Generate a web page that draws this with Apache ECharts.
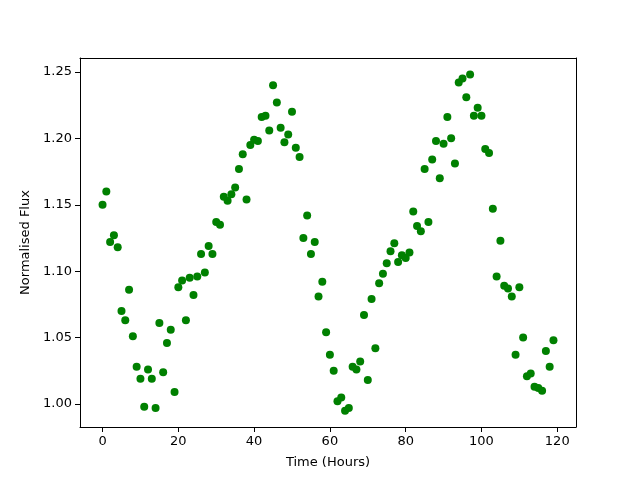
<!DOCTYPE html>
<html>
<head>
<meta charset="utf-8">
<script src="https://cdn.jsdelivr.net/npm/echarts@6/dist/echarts.min.js"></script>
<style>
  html, body { margin: 0; padding: 0; background: #fff; }
  #chart { width: 640px; height: 480px; }
</style>
</head>
<body>
<div id="chart"></div>
<script>
// time of each observation (hours)
const hours = [
  0, 1, 2, 3, 4, 5, 6, 7, 8, 9,
  10, 11, 12, 13, 14, 15, 16, 17, 18, 19,
  20, 21, 22, 23, 24, 25, 26, 27, 28, 29,
  30, 31, 32, 33, 34, 35, 36, 37, 38, 39,
  40, 41, 42, 43, 44, 45, 46, 47, 48, 49,
  50, 51, 52, 53, 54, 55, 56, 57, 58, 59,
  60, 61, 62, 63, 64, 65, 66, 67, 68, 69,
  70, 71, 72, 73, 74, 75, 76, 77, 78, 79,
  80, 81, 82, 83, 84, 85, 86, 87, 88, 89,
  90, 91, 92, 93, 94, 95, 96, 97, 98, 99,
  100, 101, 102, 103, 104, 105, 106, 107, 108, 109,
  110, 111, 112, 113, 114, 115, 116, 117, 118, 119
];

// normalised flux
const flux = [
  1.150, 1.160, 1.122, 1.127, 1.118, 1.070, 1.063, 1.086, 1.051, 1.028,
  1.019, 0.998, 1.026, 1.019, 0.997, 1.061, 1.024, 1.046, 1.056, 1.009,
  1.088, 1.093, 1.063, 1.095, 1.082, 1.096, 1.113, 1.099, 1.119, 1.113,
  1.137, 1.135, 1.156, 1.153, 1.158, 1.163, 1.177, 1.188, 1.154, 1.195,
  1.199, 1.198, 1.216, 1.217, 1.206, 1.240, 1.227, 1.208, 1.197, 1.203,
  1.220, 1.193, 1.186, 1.125, 1.142, 1.113, 1.122, 1.081, 1.092, 1.054,
  1.037, 1.025, 1.002, 1.005, 0.995, 0.997, 1.028, 1.026, 1.032, 1.067,
  1.018, 1.079, 1.042, 1.091, 1.098, 1.106, 1.115, 1.121, 1.107, 1.112,
  1.110, 1.114, 1.145, 1.134, 1.130, 1.177, 1.137, 1.184, 1.198, 1.170,
  1.196, 1.216, 1.200, 1.181, 1.242, 1.245, 1.231, 1.248, 1.217, 1.223,
  1.217, 1.192, 1.189, 1.147, 1.096, 1.123, 1.089, 1.087, 1.081, 1.037,
  1.088, 1.050, 1.021, 1.023, 1.013, 1.012, 1.010, 1.040, 1.028, 1.048
];

const xTicks = [0, 20, 40, 60, 80, 100, 120];
const yTicks = [1.00, 1.05, 1.10, 1.15, 1.20, 1.25];

const X_MIN = -5.95, X_MAX = 124.95;
const Y_MIN = 0.9827, Y_MAX = 1.2605;

const chart = echarts.init(document.getElementById("chart"));
const font = "DejaVu Sans";
const black = { color: "#000", width: 1 };

// plain frame axes for the top and right edges
const frameAxis = (pos, min, max) => ({
  type: "value",
  position: pos,
  min: min,
  max: max,
  axisLine: { show: true, onZero: false, lineStyle: black },
  axisTick: { show: false },
  axisLabel: { show: false },
  splitLine: { show: false },
});

chart.setOption({
  animation: false,
  textStyle: { fontFamily: font },
  grid: {
    left: 80,
    top: 58,
    width: 496,
    height: 369,
  },
  xAxis: [
    {
      type: "value",
      position: "bottom",
      min: X_MIN,
      max: X_MAX,
      name: "Time (Hours)",
      nameLocation: "middle",
      nameGap: 29,
      nameTextStyle: { color: "#000", fontSize: 13, fontFamily: font },
      splitLine: { show: false },
      axisLine: { show: true, onZero: false, lineStyle: black },
      axisTick: {
        show: true,
        length: 5,
        customValues: xTicks,
        lineStyle: black,
      },
      axisLabel: {
        customValues: xTicks,
        color: "#000",
        fontSize: 13,
        margin: 8,
        fontFamily: font,
      },
    },
    frameAxis("top", X_MIN, X_MAX),
  ],
  yAxis: [
    {
      type: "value",
      position: "left",
      min: Y_MIN,
      max: Y_MAX,
      name: "Normalised Flux",
      nameLocation: "middle",
      nameGap: 47,
      nameTextStyle: { color: "#000", fontSize: 13, fontFamily: font },
      splitLine: { show: false },
      axisLine: { show: true, onZero: false, lineStyle: black },
      axisTick: {
        show: true,
        length: 5,
        customValues: yTicks,
        lineStyle: black,
      },
      axisLabel: {
        customValues: yTicks,
        color: "#000",
        fontSize: 13,
        margin: 8,
        fontFamily: font,
        formatter: (v) => v.toFixed(2),
      },
    },
    frameAxis("right", Y_MIN, Y_MAX),
  ],
  series: [
    {
      type: "scatter",
      xAxisIndex: 0,
      yAxisIndex: 0,
      data: hours.map((h, i) => [h, flux[i]]),
      symbol: "circle",
      symbolSize: 8,
      itemStyle: { color: "#008000", opacity: 1 },
      emphasis: { disabled: true },
    },
  ],
});
</script>
</body>
</html>
